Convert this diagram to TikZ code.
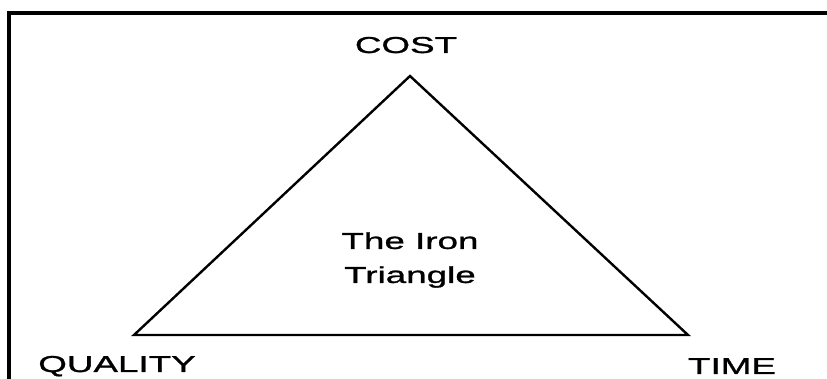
\documentclass[tikz,border=0pt]{standalone}
\usepackage{fontspec}
\newfontfamily\labelfont[FakeStretch=1.6, FakeBold=1.2]{Liberation Sans}
\usepackage{tikz}
\usetikzlibrary{positioning}

\begin{document}
\begin{tikzpicture}[x=1pt, y=1pt,
    corner/.style={font=\labelfont\fontsize{23}{34}\selectfont, inner sep=0pt}]
  \useasboundingbox (0,0) rectangle (827,379);

  % Frame (top and left edge only)
  \draw[line width=3.4pt] (9,0) -- (9,366) -- (827,366);

  % Vertices
  \coordinate (cost)    at (410,303);
  \coordinate (quality) at (134,44);
  \coordinate (time)    at (688,44);

  % Triangle
  \draw[line width=2.4pt, line join=miter] (cost) -- (quality) -- (time) -- cycle;

  % Labels
  \node[corner, anchor=base] (costlabel)    at (406,326) {COST};
  \node[corner, anchor=base] (qualitylabel) at (117,7)   {QUALITY};
  \node[corner, anchor=base] (timelabel)    at (732,5)   {TIME};
  \node[corner, align=center] (name) at (410,119) {The Iron\\Triangle};
\end{tikzpicture}
\end{document}
